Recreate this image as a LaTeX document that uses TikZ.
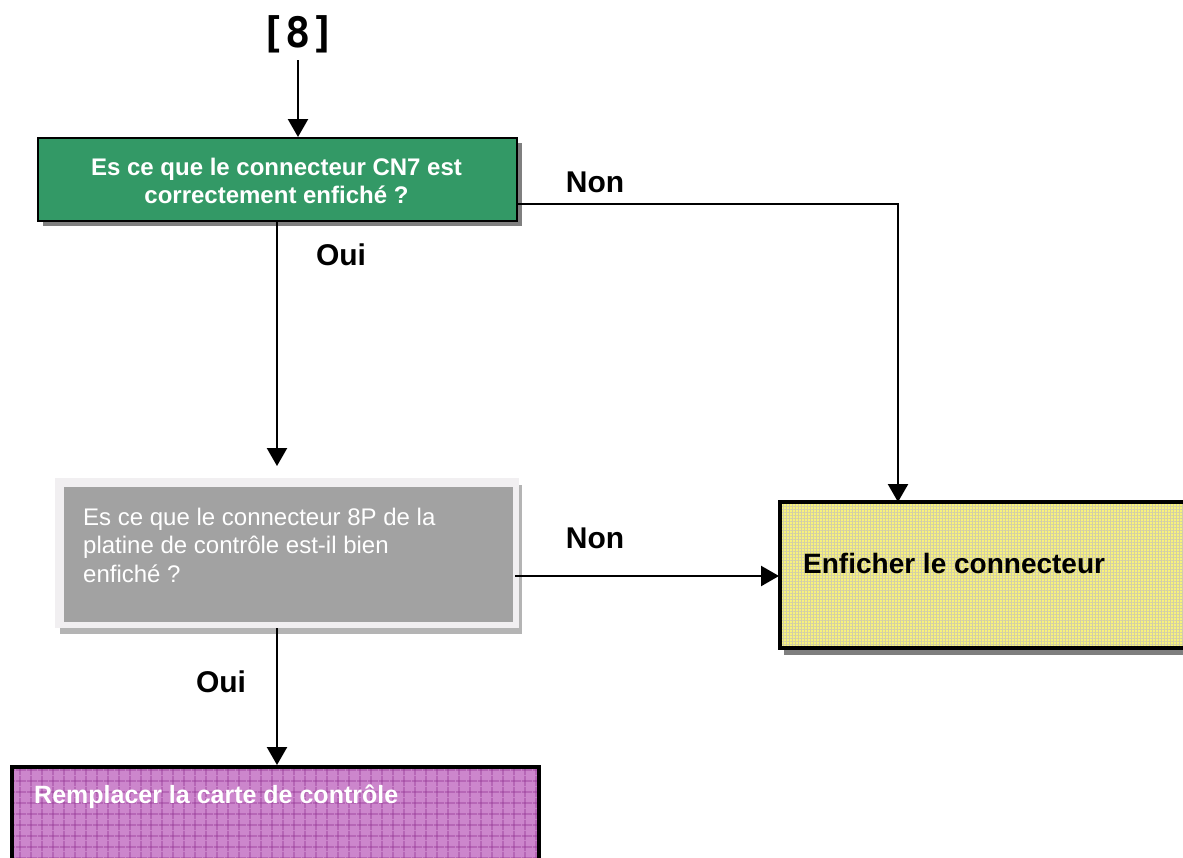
\documentclass[tikz,border=0pt]{standalone}
\usepackage{fontspec}
\setmainfont{Liberation Sans}
\newfontfamily\monofont{DejaVu Sans Mono}
\usetikzlibrary{arrows.meta,patterns.meta,positioning,calc}
\definecolor{boxgreen}{HTML}{339966}
\definecolor{boxgray}{HTML}{A2A2A2}
\definecolor{boxgrayedge}{HTML}{F1EFF1}
\definecolor{hatchgray}{HTML}{B4B4B4}
\definecolor{boxyellow}{HTML}{F8F27C}
\definecolor{yellowgrid}{HTML}{D2CEA8}
\definecolor{boxmagenta}{HTML}{CC86CC}
\definecolor{magentagrid}{HTML}{8E2E8E}
\definecolor{shadowgray}{HTML}{7F7F7F}
\tikzset{
  x=1pt,y=-1pt,
  conn/.style={line width=2.4pt,draw=black},
  arr/.style={conn,-{Triangle[length=18pt,width=20pt]}},
  lbl/.style={font=\fontsize{30}{34}\selectfont\bfseries,text=black,inner sep=0pt},
  boxbase/.style={rectangle,inner sep=0pt,anchor=north west},
}
\begin{document}
\begin{tikzpicture}
\useasboundingbox (0,0) rectangle (1183,857);

% ---- [8]
\node[font=\monofont\fontsize{42}{46}\selectfont\bfseries,inner sep=0pt] (start) at (298,34) {[8]};

% ---- green question box
\fill[shadowgray] (43,143) rectangle (522,226);
\node[boxbase,fill=boxgreen,draw=black,line width=2pt,minimum width=479pt,minimum height=83pt] (q1) at (37,137) {};
\node[font=\fontsize{24}{28}\selectfont\bfseries,text=white,align=center,inner sep=0pt] (q1t) at (276.5,181) {Es ce que le connecteur CN7 est\\correctement enfiché ?};

% ---- gray question box
\fill[hatchgray] (60,628) rectangle (522,634);
\fill[hatchgray] (518,485) rectangle (522,634);
\node[boxbase,fill=boxgrayedge,minimum width=464pt,minimum height=150pt] (q2) at (55,478) {};
\node[boxbase,fill=boxgray,minimum width=449pt,minimum height=135pt] (q2in) at (64,487) {};
\node[font=\fontsize{24}{28.5}\selectfont,text=white,align=left,anchor=north west,inner sep=0pt] (q2t) at (83,507.5) {Es ce que le connecteur 8P de la\\platine de contrôle est-il bien\\enfiché ?};

% ---- yellow action box
\fill[shadowgray] (784,508) rectangle (1190,655);
\node[boxbase,fill=boxyellow,minimum width=420pt,minimum height=146pt] (a1) at (778,502) {};
\fill[pattern={Lines[angle=0,distance=3pt,line width=0.45pt]},pattern color=yellowgrid] (780,504) rectangle (1190,646);
\fill[pattern={Lines[angle=90,distance=3pt,line width=0.45pt]},pattern color=yellowgrid] (780,504) rectangle (1190,646);
\draw[line width=4pt] (1190,502) -- (780,502) -- (780,648) -- (1190,648);
\node[font=\fontsize{28}{32}\selectfont\bfseries,text=black,anchor=base west,inner sep=0pt] (a1t) at (803,573) {Enficher le connecteur};

% ---- magenta action box
\node[boxbase,fill=boxmagenta,minimum width=531pt,minimum height=105pt] (a2) at (10,765) {};
\fill[pattern={Lines[angle=0,distance=10.5pt,line width=0.8pt]},pattern color=magentagrid] (12,767) rectangle (539,870);
\fill[pattern={Lines[angle=90,distance=10.5pt,line width=0.8pt]},pattern color=magentagrid] (12,767) rectangle (539,870);
\draw[line width=4pt] (12,870) -- (12,767) -- (539,767) -- (539,870);
\node[font=\fontsize{25}{29}\selectfont\bfseries,text=white,anchor=base west,inner sep=0pt] (a2t) at (34,803) {Remplacer la carte de contrôle};

% ---- connectors
\coordinate (q1top) at (298,137);
\draw[arr] (start.south |- 0,60) -- (q1top);

\coordinate (q1r) at (516,204);
\coordinate (corner1) at (898,204);
\coordinate (a1top) at (898,502);
\draw[arr] (q1r) -- (corner1) -- (a1top);

\coordinate (q1b) at (277,220);
\coordinate (q2above) at (277,466);
\draw[arr] (q1b) -- (q2above);

\coordinate (q2r) at (515,576);
\coordinate (a1left) at (779,576);
\draw[arr] (q2r) -- (a1left);

\coordinate (q2b) at (277,628);
\coordinate (a2top) at (277,765);
\draw[arr] (q2b) -- (a2top);

% ---- labels
\node[lbl] (non1) at (595,182) {Non};
\node[lbl] (oui1) at (341,255) {Oui};
\node[lbl] (non2) at (595,538) {Non};
\node[lbl] (oui2) at (221,682) {Oui};
\end{tikzpicture}
\end{document}
